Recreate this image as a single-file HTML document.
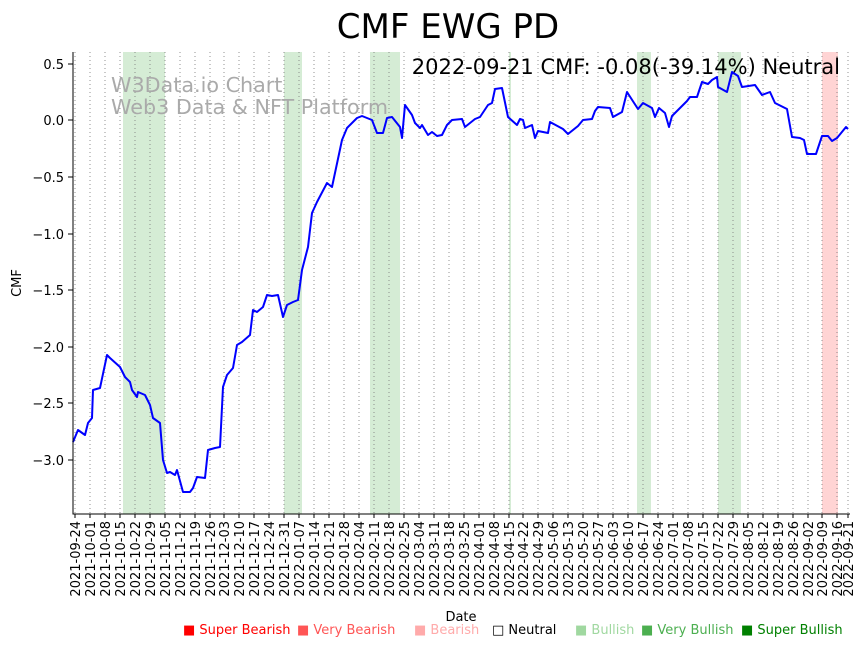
<!DOCTYPE html>
<html><head><meta charset="utf-8"><style>body{margin:0;background:#fff}svg{display:block;font-family:"DejaVu Sans","Liberation Sans",sans-serif}</style></head><body>
<svg width="867" height="646" viewBox="0 0 867 646" xmlns="http://www.w3.org/2000/svg">
<text x="448" y="38" font-size="34" text-anchor="middle">CMF EWG PD</text>
<g fill="#2ca02c" fill-opacity="0.2">
<rect x="123" y="52" width="42" height="462"/><rect x="284" y="52" width="18" height="462"/><rect x="370" y="52" width="30" height="462"/><rect x="509" y="52" width="2" height="462"/><rect x="637" y="52" width="14" height="462"/><rect x="718" y="52" width="23" height="462"/></g>
<rect x="822" y="52" width="16" height="462" fill="#ff0000" fill-opacity="0.17"/>
<g stroke="#777" stroke-width="0.8" stroke-dasharray="1,3">
<path d="M75 52V514M90 52V514M105 52V514M120 52V514M135 52V514M150 52V514M165 52V514M180 52V514M195 52V514M210 52V514M224 52V514M239 52V514M254 52V514M269 52V514M284 52V514M299 52V514M314 52V514M329 52V514M344 52V514M359 52V514M374 52V514M389 52V514M404 52V514M419 52V514M434 52V514M449 52V514M464 52V514M479 52V514M494 52V514M509 52V514M523 52V514M538 52V514M553 52V514M568 52V514M583 52V514M598 52V514M613 52V514M628 52V514M643 52V514M658 52V514M673 52V514M688 52V514M703 52V514M718 52V514M733 52V514M748 52V514M763 52V514M778 52V514M793 52V514M808 52V514M822 52V514M837 52V514M848 52V514"/></g>
<text x="111" y="92" font-size="20.7" fill="#aaa">W3Data.io Chart</text>
<text x="111" y="114" font-size="20.7" fill="#aaa">Web3 Data &amp; NFT Platform</text>
<text x="840" y="74" font-size="21" text-anchor="end">2022-09-21 CMF: -0.08(-39.14%) Neutral</text>
<polyline fill="none" stroke="#0000ff" stroke-width="2" stroke-linejoin="round" points="73,442 78,430 85,435 88,423 92,418 93,390 100,388 107,355 110,358 120,367 125,377 130,382 132,390 137,397 138,392 145,395 150,405 153,418 160,423 163,460 167,473 170,472 175,475 177,470 183,492 190,492 193,488 197,477 205,478 208,450 215,448 220,447 223,387 227,375 233,368 237,345 242,342 250,335 253,310 257,312 263,307 267,295 272,296 278,295 283,317 287,305 293,302 298,300 302,270 308,247 312,213 317,202 327,183 332,187 342,140 347,128 357,118 362,116 372,120 377,133 383,133 387,118 392,117 400,127 402,138 405,105 412,115 415,123 420,128 422,125 428,135 432,132 437,136 442,135 447,125 452,120 462,119 465,127 475,119 480,117 488,105 492,103 495,89 502,88 508,117 517,125 520,119 523,120 525,128 532,125 535,138 538,131 548,133 550,122 563,129 568,134 578,126 583,120 592,119 595,111 598,107 610,108 613,117 622,112 627,92 638,109 643,103 652,108 655,117 659,108 665,113 669,127 672,116 687,101 690,97 697,97 702,82 708,84 712,80 717,77 718,87 727,92 732,72 738,76 742,87 755,85 762,95 770,92 775,103 787,109 792,137 800,138 804,140 807,154 816,154 822,136 828,136 832,141 837,138 846,127 848,129"/>
<path d="M73 52V514H850" fill="none" stroke="#000" stroke-width="1"/>
<g stroke="#000"><path d="M68 64H73M68 120H73M68 177H73M68 234H73M68 290H73M68 347H73M68 403H73M68 460H73"/></g>
<g font-size="13" text-anchor="end">
<text x="64" y="69">0.5</text><text x="64" y="125">0.0</text><text x="64" y="182">−0.5</text><text x="64" y="239">−1.0</text><text x="64" y="295">−1.5</text><text x="64" y="352">−2.0</text><text x="64" y="408">−2.5</text><text x="64" y="465">−3.0</text></g>
<text transform="translate(21,283) rotate(-90)" font-size="13" text-anchor="middle">CMF</text>
<text x="461" y="621" font-size="13" text-anchor="middle">Date</text>
<g stroke="#000"><path d="M75 514V518M90 514V518M105 514V518M120 514V518M135 514V518M150 514V518M165 514V518M180 514V518M195 514V518M210 514V518M224 514V518M239 514V518M254 514V518M269 514V518M284 514V518M299 514V518M314 514V518M329 514V518M344 514V518M359 514V518M374 514V518M389 514V518M404 514V518M419 514V518M434 514V518M449 514V518M464 514V518M479 514V518M494 514V518M509 514V518M523 514V518M538 514V518M553 514V518M568 514V518M583 514V518M598 514V518M613 514V518M628 514V518M643 514V518M658 514V518M673 514V518M688 514V518M703 514V518M718 514V518M733 514V518M748 514V518M763 514V518M778 514V518M793 514V518M808 514V518M822 514V518M837 514V518M848 514V518"/></g>
<g font-size="13" text-anchor="end">
<text transform="translate(80,521) rotate(-90)">2021-09-24</text>
<text transform="translate(95,521) rotate(-90)">2021-10-01</text>
<text transform="translate(110,521) rotate(-90)">2021-10-08</text>
<text transform="translate(125,521) rotate(-90)">2021-10-15</text>
<text transform="translate(140,521) rotate(-90)">2021-10-22</text>
<text transform="translate(155,521) rotate(-90)">2021-10-29</text>
<text transform="translate(170,521) rotate(-90)">2021-11-05</text>
<text transform="translate(185,521) rotate(-90)">2021-11-12</text>
<text transform="translate(200,521) rotate(-90)">2021-11-19</text>
<text transform="translate(215,521) rotate(-90)">2021-11-26</text>
<text transform="translate(229,521) rotate(-90)">2021-12-03</text>
<text transform="translate(244,521) rotate(-90)">2021-12-10</text>
<text transform="translate(259,521) rotate(-90)">2021-12-17</text>
<text transform="translate(274,521) rotate(-90)">2021-12-24</text>
<text transform="translate(289,521) rotate(-90)">2021-12-31</text>
<text transform="translate(304,521) rotate(-90)">2022-01-07</text>
<text transform="translate(319,521) rotate(-90)">2022-01-14</text>
<text transform="translate(334,521) rotate(-90)">2022-01-21</text>
<text transform="translate(349,521) rotate(-90)">2022-01-28</text>
<text transform="translate(364,521) rotate(-90)">2022-02-04</text>
<text transform="translate(379,521) rotate(-90)">2022-02-11</text>
<text transform="translate(394,521) rotate(-90)">2022-02-18</text>
<text transform="translate(409,521) rotate(-90)">2022-02-25</text>
<text transform="translate(424,521) rotate(-90)">2022-03-04</text>
<text transform="translate(439,521) rotate(-90)">2022-03-11</text>
<text transform="translate(454,521) rotate(-90)">2022-03-18</text>
<text transform="translate(469,521) rotate(-90)">2022-03-25</text>
<text transform="translate(484,521) rotate(-90)">2022-04-01</text>
<text transform="translate(499,521) rotate(-90)">2022-04-08</text>
<text transform="translate(514,521) rotate(-90)">2022-04-15</text>
<text transform="translate(528,521) rotate(-90)">2022-04-22</text>
<text transform="translate(543,521) rotate(-90)">2022-04-29</text>
<text transform="translate(558,521) rotate(-90)">2022-05-06</text>
<text transform="translate(573,521) rotate(-90)">2022-05-13</text>
<text transform="translate(588,521) rotate(-90)">2022-05-20</text>
<text transform="translate(603,521) rotate(-90)">2022-05-27</text>
<text transform="translate(618,521) rotate(-90)">2022-06-03</text>
<text transform="translate(633,521) rotate(-90)">2022-06-10</text>
<text transform="translate(648,521) rotate(-90)">2022-06-17</text>
<text transform="translate(663,521) rotate(-90)">2022-06-24</text>
<text transform="translate(678,521) rotate(-90)">2022-07-01</text>
<text transform="translate(693,521) rotate(-90)">2022-07-08</text>
<text transform="translate(708,521) rotate(-90)">2022-07-15</text>
<text transform="translate(723,521) rotate(-90)">2022-07-22</text>
<text transform="translate(738,521) rotate(-90)">2022-07-29</text>
<text transform="translate(753,521) rotate(-90)">2022-08-05</text>
<text transform="translate(768,521) rotate(-90)">2022-08-12</text>
<text transform="translate(783,521) rotate(-90)">2022-08-19</text>
<text transform="translate(798,521) rotate(-90)">2022-08-26</text>
<text transform="translate(813,521) rotate(-90)">2022-09-02</text>
<text transform="translate(827,521) rotate(-90)">2022-09-09</text>
<text transform="translate(842,521) rotate(-90)">2022-09-16</text>
<text transform="translate(853,521) rotate(-90)">2022-09-21</text>
</g>
<g font-size="13">
<text x="183" y="634" fill="#ff0000">■ Super Bearish</text>
<text x="297" y="634" fill="#ff5555">■ Very Bearish</text>
<text x="414" y="634" fill="#ffaaaa">■ Bearish</text>
<text x="492" y="634" fill="#000">□ Neutral</text>
<text x="575" y="634" fill="#a0d8a0">■ Bullish</text>
<text x="641" y="634" fill="#4caf50">■ Very Bullish</text>
<text x="741" y="634" fill="#008000">■ Super Bullish</text>
</g>
</svg>
</body></html>
